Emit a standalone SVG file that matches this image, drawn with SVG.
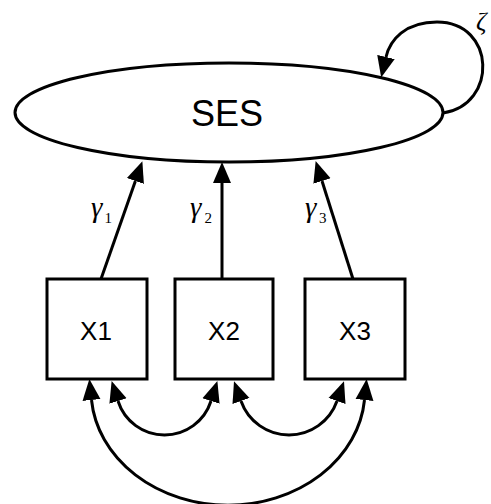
<svg xmlns="http://www.w3.org/2000/svg" width="491" height="504" viewBox="0 0 491 504">
<style>
.shape{fill:#fff;stroke:#000;stroke-width:3}
.edge{fill:none;stroke:#000;stroke-width:3}
.lbl{font-family:"Liberation Sans",Arial,sans-serif;fill:#000;text-anchor:middle}
.greek{font-family:"Liberation Serif","Times New Roman",serif;font-style:italic;fill:#000}
.sub{font-family:"Liberation Serif","Times New Roman",serif;font-size:15px;fill:#000}
</style>
<defs>
<marker id="ah" markerUnits="userSpaceOnUse" markerWidth="22" markerHeight="20" refX="0" refY="9" orient="auto-start-reverse" viewBox="0 0 22 18">
<path d="M0,0 L21,9 L0,18 Z" fill="#000"/>
</marker>
</defs>
<rect width="491" height="504" fill="#fff"/>
<g id="connectors">
<path class="edge" d="M101,279 L135.4,181" marker-end="url(#ah)"/>
<path class="edge" d="M222,279 L222,183" marker-end="url(#ah)"/>
<path class="edge" d="M353,279 L322,181" marker-end="url(#ah)"/>
<path class="edge" d="M443,113 C498,105 496,22 437,22 C405,22 390,40 386,57" marker-end="url(#ah)"/>
<path class="edge" d="M118,401 A48.8,48.8 0 0 0 211,401" marker-start="url(#ah)" marker-end="url(#ah)"/>
<path class="edge" d="M241,401 A50.9,50.9 0 0 0 337,401" marker-start="url(#ah)" marker-end="url(#ah)"/>
<path class="edge" d="M91.5,400 A137,115 0 0 0 364.5,400" marker-start="url(#ah)" marker-end="url(#ah)"/>
</g>
<g id="SES">
<ellipse class="shape" cx="229" cy="112.5" rx="214" ry="49.5"/>
<text class="lbl" x="227" y="126" font-size="36">SES</text>
</g>
<g id="X1">
<rect class="shape" x="47" y="279" width="100" height="100"/>
<text class="lbl" x="96" y="340" font-size="26">X1</text>
</g>
<g id="X2">
<rect class="shape" x="175" y="279" width="98" height="100"/>
<text class="lbl" x="224" y="340" font-size="26">X2</text>
</g>
<g id="X3">
<rect class="shape" x="305" y="279" width="100" height="100"/>
<text class="lbl" x="355" y="340" font-size="26">X3</text>
</g>
<g id="labels">
<text class="greek" x="91" y="217" font-size="29">γ</text><text class="sub" x="104.5" y="223">1</text>
<text class="greek" x="190" y="217" font-size="29">γ</text><text class="sub" x="204.5" y="223">2</text>
<text class="greek" x="305" y="217" font-size="29">γ</text><text class="sub" x="319" y="223">3</text>
<text class="greek" x="476" y="30" font-size="26">ζ</text>
</g>
</svg>
